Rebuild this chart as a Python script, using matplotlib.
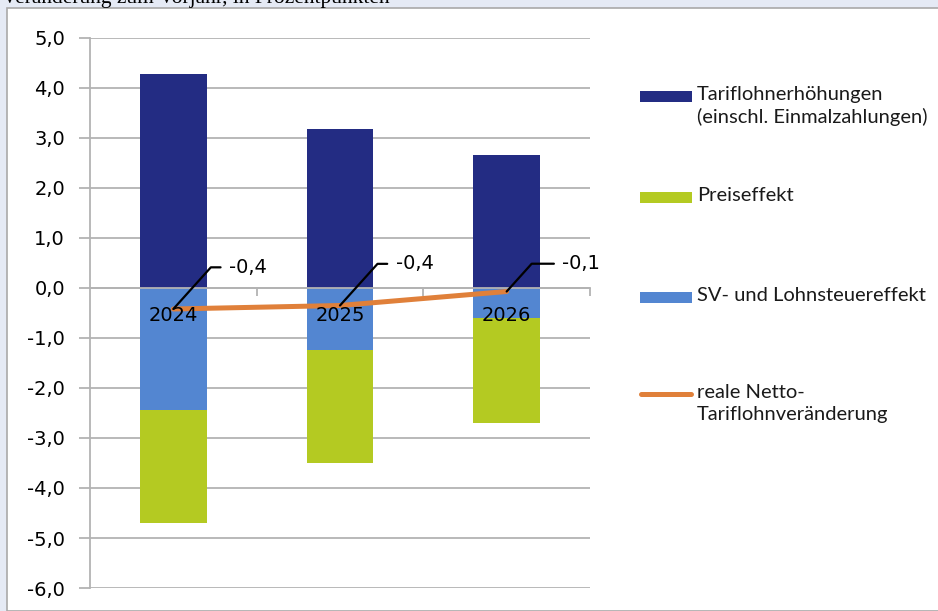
import matplotlib.pyplot as plt
from matplotlib.patches import Rectangle
from matplotlib.lines import Line2D
from matplotlib.ticker import FuncFormatter

# data (percentage points)
years = ["2024", "2025", "2026"]
tarif = [4.28, 3.17, 2.65]
sv = [-2.45, -1.24, -0.60]
preis = [-2.24, -2.27, -2.11]
netto = [-0.42, -0.35, -0.07]
netto_labels = ["-0,4", "-0,4", "-0,1"]

c_tarif = "#232c83"
c_preis = "#b4ca22"
c_sv = "#5386d1"
c_netto = "#e0803a"
c_grid = "#b3b3b3"

fig = plt.figure(figsize=(9.38, 6.11), dpi=100)
fig.patch.set_facecolor("#e5eaf5")
W, H = 938, 611

# white chart panel
fig.add_artist(Rectangle((7 / W, 0), 1, 1 - 8 / H, transform=fig.transFigure,
                         facecolor="white", edgecolor="#a9a9a9", lw=1.2, zorder=0))
fig.text(2 / W, 1 - 3 / H, "Veränderung zum Vorjahr, in Prozentpunkten",
         family="Liberation Serif", fontsize=15.5, va="baseline", ha="left")

ax = fig.add_axes([90 / W, 1 - 588 / H, 500 / W, 550 / H])
ax.set_facecolor("none")
x = list(range(len(years)))

ax.bar(x, tarif, width=0.4, color=c_tarif, zorder=2)
ax.bar(x, sv, width=0.4, color=c_sv, zorder=2)
ax.bar(x, preis, width=0.4, bottom=sv, color=c_preis, zorder=2)
ax.plot(x, netto, color=c_netto, lw=3.6, solid_capstyle="round", zorder=3)

for xi, v, lab in zip(x, netto, netto_labels):
    dy = 30 if v < -0.2 else 20
    ax.annotate(lab, xy=(xi, v), xytext=(40, dy), textcoords="offset points",
                ha="left", va="center", fontsize=14, family="DejaVu Sans", zorder=6,
                arrowprops=dict(arrowstyle="-", color="black", lw=1.6,
                                connectionstyle="angle,angleA=0,angleB=48,rad=0",
                                relpos=(0, 0.5), shrinkA=4, shrinkB=0))

for xi, y in zip(x, years):
    ax.annotate(y, xy=(xi, 0), xytext=(0, -20), textcoords="offset points",
                ha="center", va="center", fontsize=14, family="DejaVu Sans", zorder=6)

ax.set_xlim(-0.5, 2.5)
ax.set_ylim(-6, 5)
ax.set_yticks([5, 4, 3, 2, 1, 0, -1, -2, -3, -4, -5, -6])
ax.yaxis.set_major_formatter(FuncFormatter(lambda v, p: f"{v:.1f}".replace(".", ",")))
ax.grid(axis="y", color=c_grid, lw=1.3, zorder=0)
ax.set_axisbelow(True)
ax.tick_params(axis="y", length=8, width=1.3, color=c_grid, pad=10, labelsize=14)

ax.set_xticks([0.5, 1.5, 2.5])
ax.set_xticklabels([])
ax.tick_params(axis="x", length=6, width=1.3, color=c_grid, direction="out")

for s in ["top", "right"]:
    ax.spines[s].set_visible(False)
ax.spines["left"].set_color(c_grid)
ax.spines["left"].set_linewidth(1.3)
ax.spines["bottom"].set_position(("data", 0))
ax.spines["bottom"].set_color(c_grid)
ax.spines["bottom"].set_linewidth(1.3)

# legend on the right
leg = [
    ("bar", c_tarif, 96, "Tariflohnerhöhungen\n(einschl. Einmalzahlungen)"),
    ("bar", c_preis, 197, "Preiseffekt"),
    ("bar", c_sv, 297, "SV- und Lohnsteuereffekt"),
    ("line", c_netto, 394, "reale Netto-\nTariflohnveränderung"),
]
for kind, col, yc, txt in leg:
    if kind == "bar":
        fig.add_artist(Rectangle((640 / W, 1 - (yc + 5.5) / H), 52 / W, 11 / H,
                                 transform=fig.transFigure, facecolor=col, lw=0))
    else:
        fig.add_artist(Line2D([641 / W, 691 / W], [1 - yc / H, 1 - yc / H],
                              transform=fig.transFigure, color=col, lw=3.6,
                              solid_capstyle="round"))
    fig.text(697 / W, 1 - (yc - 10) / H, txt, fontsize=14.5, family="Lato",
             color="#1a1a1a", va="top", ha="left", linespacing=1.35)

fig.savefig("out.png", dpi=100, facecolor=fig.get_facecolor())
